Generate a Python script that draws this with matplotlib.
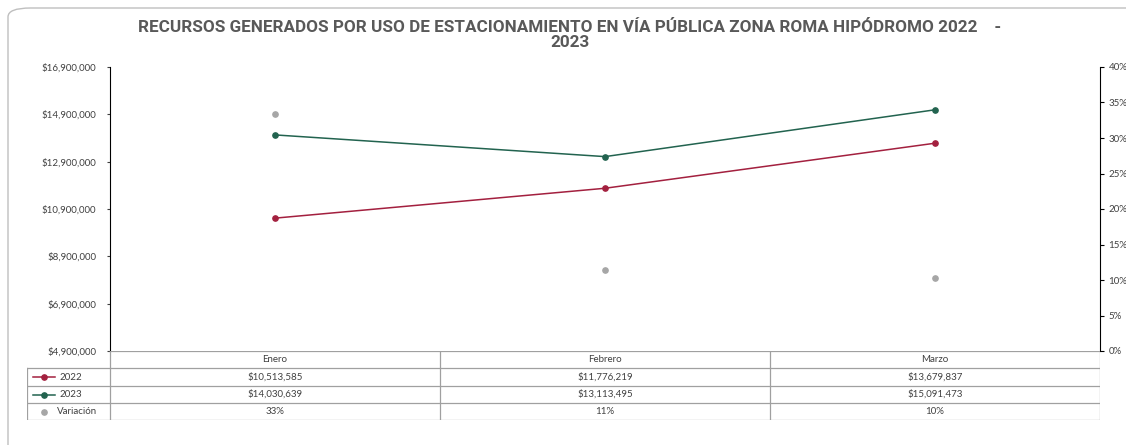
import matplotlib.pyplot as plt
from matplotlib.patches import FancyBboxPatch
from matplotlib.ticker import FuncFormatter, PercentFormatter

# datos
meses = ['Enero', 'Febrero', 'Marzo']
v2022 = [10513585, 11776219, 13679837]
v2023 = [14030639, 13113495, 15091473]
variacion = [0.3345, 0.1136, 0.1032]

c2022 = '#A3203F'
c2023 = '#22634F'
cvar = '#A6A6A6'
gris = '#595959'

plt.rcParams['font.family'] = ['Lato', 'DejaVu Sans']

W, H = 1126, 445
fig = plt.figure(figsize=(W / 100, H / 100), dpi=100)

# marco exterior redondeado
marco = FancyBboxPatch((8 / W, -0.2), 1.2, 1.2 - 8 / H, boxstyle='round,pad=0,rounding_size=0.02',
                       transform=fig.transFigure, fc='white', ec='#BFBFBF', lw=1, zorder=-5)
fig.patches.append(marco)

x0, x1 = 110, 1100
ytop, ybot = 67, 351
ax = fig.add_axes([x0 / W, 1 - ybot / H, (x1 - x0) / W, (ybot - ytop) / H])
ax.set_facecolor('none')
xs = range(len(meses))
ax.plot(xs, v2022, color=c2022, lw=1.1, marker='o', ms=3.8, label='2022')
ax.plot(xs, v2023, color=c2023, lw=1.1, marker='o', ms=3.8, label='2023')
ax.set_xlim(-0.5, len(meses) - 0.5)
ax.set_ylim(4900000, 16900000)
ax.set_yticks(range(4900000, 16900001, 2000000))
ax.yaxis.set_major_formatter(FuncFormatter(lambda v, p: f'${v:,.0f}'))
ax.tick_params(axis='y', labelsize=7, colors='#404040', length=2, width=0.8, pad=8)
ax.set_xticks([])
ax.spines['top'].set_visible(False)
ax.spines['left'].set_color('black')
ax.spines['bottom'].set_visible(False)
ax.spines['right'].set_visible(False)

ax2 = ax.twinx()
ax2.plot(xs, variacion, ls='none', marker='o', ms=3.8, color=cvar)
ax2.set_ylim(0, 0.40)
ax2.set_yticks([i * 0.05 for i in range(9)])
ax2.yaxis.set_major_formatter(PercentFormatter(1.0, decimals=0))
ax2.tick_params(axis='y', labelsize=7, labelcolor='#404040', length=3, width=0.8, pad=3)
ax2.spines['top'].set_visible(False)
ax2.spines['left'].set_visible(False)
ax2.spines['bottom'].set_visible(False)
ax2.spines['right'].set_color('black')

# tabla de datos
tx0, ty1 = 27, 420
ta = fig.add_axes([tx0 / W, 1 - ty1 / H, (x1 - tx0) / W, (ty1 - ybot) / H])
ta.set_xlim(tx0, x1)
ta.set_ylim(ty1, ybot)
ta.axis('off')
filas = [ybot, 368, 386, 403, ty1]
lc = '#A0A0A0'
ta.plot([x0, x1], [ybot, ybot], color=lc, lw=0.9)
for yy in filas[1:]:
    ta.plot([tx0, x1], [yy, yy], color=lc, lw=0.9)
ta.plot([tx0, tx0], [368, ty1], color=lc, lw=0.9)
cw = (x1 - x0) / len(meses)
for i in range(len(meses) + 1):
    ta.plot([x0 + i * cw] * 2, [ybot, ty1], color=lc, lw=0.9)

tfs = 7
for i, m in enumerate(meses):
    cx = x0 + (i + 0.5) * cw
    ta.text(cx, (filas[0] + filas[1]) / 2, m, ha='center', va='center', fontsize=tfs, color='#404040')
    ta.text(cx, (filas[1] + filas[2]) / 2, f'${v2022[i]:,}', ha='center', va='center', fontsize=tfs, color='#404040')
    ta.text(cx, (filas[2] + filas[3]) / 2, f'${v2023[i]:,}', ha='center', va='center', fontsize=tfs, color='#404040')
    ta.text(cx, (filas[3] + filas[4]) / 2, f'{variacion[i]:.0%}', ha='center', va='center', fontsize=tfs, color='#404040')

# leyenda en la tabla
y22 = (filas[1] + filas[2]) / 2
y23 = (filas[2] + filas[3]) / 2
yv = (filas[3] + filas[4]) / 2
ta.plot([33, 55], [y22, y22], color=c2022, lw=1.1)
ta.plot([44], [y22], marker='o', ms=3.8, color=c2022)
ta.text(59, y22, '2022', va='center', fontsize=tfs, color='#404040')
ta.plot([33, 55], [y23, y23], color=c2023, lw=1.1)
ta.plot([44], [y23], marker='o', ms=3.8, color=c2023)
ta.text(59, y23, '2023', va='center', fontsize=tfs, color='#404040')
ta.plot([44], [yv], marker='o', ms=3.8, color=cvar)
ta.text(57, yv, 'Variación', va='center', fontsize=tfs, color='#404040')

fig.text(570 / W, 1 - 35 / H,
         'RECURSOS GENERADOS POR USO DE ESTACIONAMIENTO EN VÍA PÚBLICA ZONA ROMA HIPÓDROMO 2022    -\n2023',
         ha='center', va='center', fontsize=12.3, fontweight='bold', color=gris,
         family=['Roboto', 'DejaVu Sans'], linespacing=1.05)

fig.savefig('out.png', dpi=100)
